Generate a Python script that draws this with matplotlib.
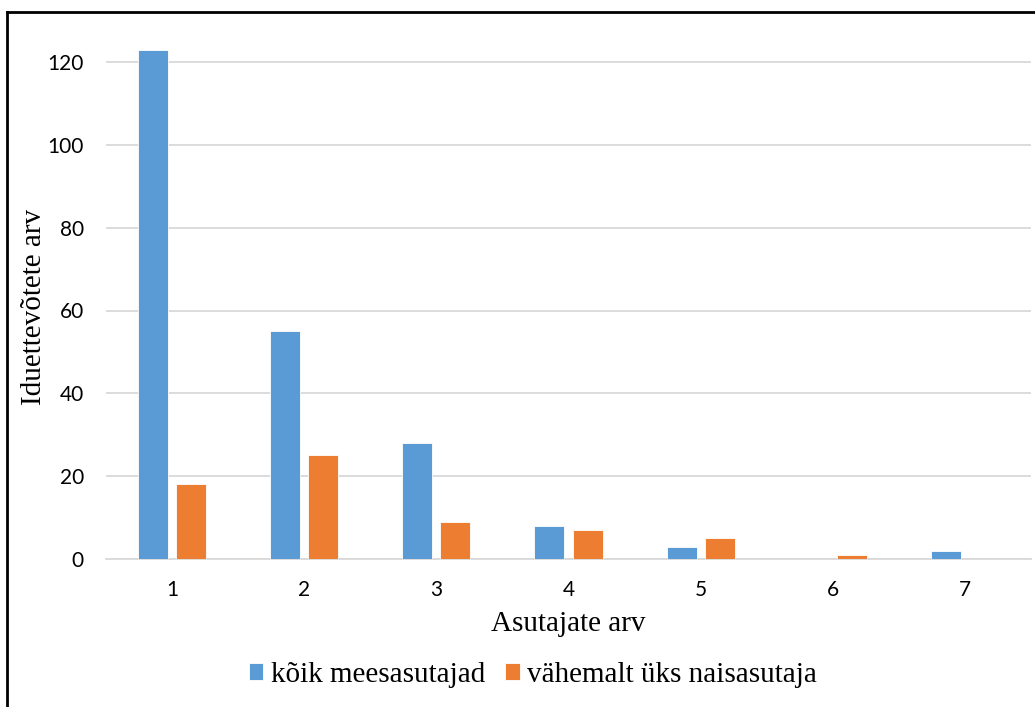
import matplotlib
matplotlib.use("Agg")
import matplotlib.pyplot as plt
import numpy as np
from matplotlib.lines import Line2D

categories = ["1", "2", "3", "4", "5", "6", "7"]
men_only = [123, 55, 28, 8, 3, 0, 2]
at_least_one_woman = [18, 25, 9, 7, 5, 1, 0]
series_names = ["kõik meesasutajad", "vähemalt üks naisasutaja"]
yticks = [0, 20, 40, 60, 80, 100, 120]

W, H = 1035, 707
fig = plt.figure(figsize=(W / 100, H / 100), dpi=100)
ax_l, ax_r, ax_t, ax_b = 106, 1031, 40, 559
ax = fig.add_axes([ax_l / W, 1 - ax_b / H, (ax_r - ax_l) / W, (ax_b - ax_t) / H])

x = np.arange(len(categories))
bw = 0.227
off = 0.144
ax.bar(x - off, men_only, bw, color="#5B9BD5", edgecolor="white", linewidth=0.6, zorder=3,
       label=series_names[0])
ax.bar(x + off, at_least_one_woman, bw, color="#ED7D31", edgecolor="white", linewidth=0.6, zorder=3,
       label=series_names[1])

ax.set_ylim(0, (ax_b - ax_t) / ((ax_b - 62) / 120))
ax.set_xlim(-0.5, len(categories) - 0.5)
ax.set_yticks(yticks)
ax.set_xticks(x)
ax.set_xticklabels(categories)
ax.yaxis.grid(True, color="#D9D9D9", linewidth=1.3, zorder=0)
ax.set_axisbelow(True)
for s in ["top", "right", "left"]:
    ax.spines[s].set_visible(False)
ax.spines["bottom"].set_color("#D9D9D9")
ax.spines["bottom"].set_linewidth(1.3)
ax.tick_params(axis="both", length=0, labelsize=15, labelcolor="#000000")
ax.tick_params(axis="y", pad=16)
ax.tick_params(axis="x", pad=15)
for lab in ax.get_xticklabels() + ax.get_yticklabels():
    lab.set_family(["Lato", "DejaVu Sans"])

serif = ["Liberation Serif", "DejaVu Serif"]
ax.set_xlabel("Asutajate arv", family=serif, fontsize=21, labelpad=8)
ax.set_ylabel("Iduettevõtete arv", family=serif, fontsize=21)
ax.yaxis.set_label_coords((47 - ax_l) / (ax_r - ax_l), (ax_b - 307) / (ax_b - ax_t))

leg = fig.legend(loc="center", bbox_to_anchor=(533 / W, 1 - 675 / H), ncol=2, frameon=False,
                 prop={"family": serif, "size": 21}, handlelength=0.5, handleheight=0.5,
                 handletextpad=0.25, columnspacing=0.7)

# outer border (top and left visible)
fig.add_artist(Line2D([7 / W, 7 / W], [0, 1 - 12 / H], transform=fig.transFigure, color="black", lw=2))
fig.add_artist(Line2D([7 / W, 1], [1 - 12 / H, 1 - 12 / H], transform=fig.transFigure, color="black", lw=2))

fig.savefig("out.png", dpi=100)
